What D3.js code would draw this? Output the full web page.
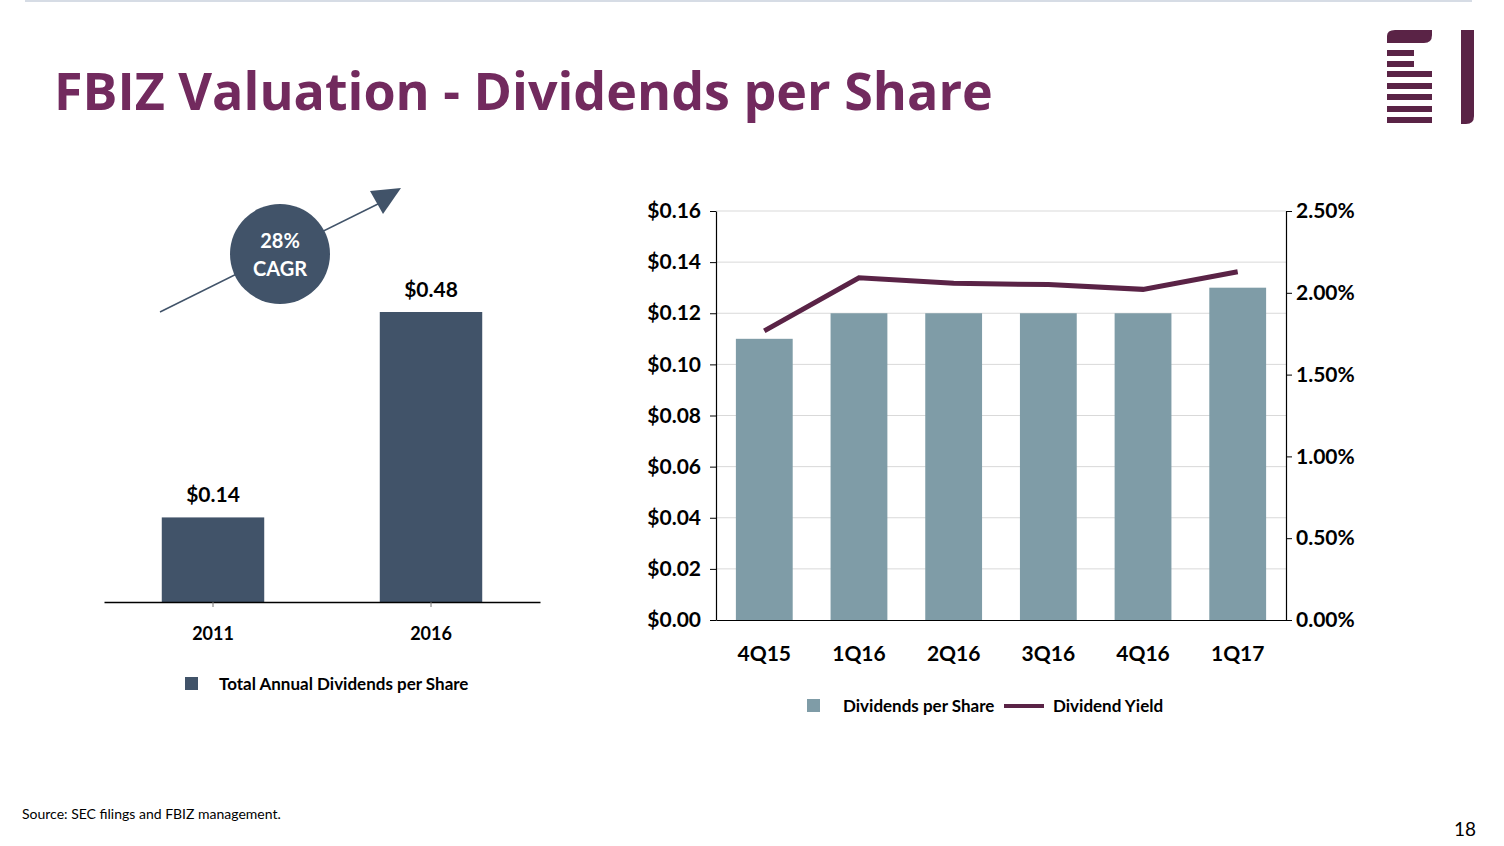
<!DOCTYPE html>
<html><head><meta charset="utf-8">
<script src="https://cdn.jsdelivr.net/npm/d3@7"></script>
<style>
html,body{margin:0;padding:0;background:#fff;}
svg text{font-family:Lato,"Open Sans",sans-serif;}
</style></head>
<body>
<svg id="c" width="1504" height="846"></svg>
<script>
// ---- data ----
const annualYears = ["2011", "2016"];
const annualDividends = [0.14, 0.48];
const annualLabels = ["$0.14", "$0.48"];
const cagrLabel = ["28%", "CAGR"];

const quarters = ["4Q15", "1Q16", "2Q16", "3Q16", "4Q16", "1Q17"];
const quarterlyDividends = [0.11, 0.12, 0.12, 0.12, 0.12, 0.13];
const dividendYield = [0.01767, 0.02092, 0.02058, 0.02050, 0.02021, 0.02129];
const leftTicks = [0, 0.02, 0.04, 0.06, 0.08, 0.10, 0.12, 0.14, 0.16];
const rightTicks = [0, 0.005, 0.010, 0.015, 0.020, 0.025];

const titleText = "FBIZ Valuation - Dividends per Share";
const sourceText = "Source: SEC filings and FBIZ management.";
const pageNumber = "18";

// ---- colours ----
const purple = "#722a5e";
const logoColor = "#5a2346";
const slate = "#415369";
const teal = "#7f9ca7";
const yieldColor = "#5a2346";

const svg = d3.select("#c");

// top rule
svg.append("line").attr("x1", 25).attr("x2", 1472).attr("y1", 1).attr("y2", 1)
  .attr("stroke", "#d6dce5").attr("stroke-width", 2);

// title
svg.append("text").attr("x", 54).attr("y", 110).text(titleText)
  .attr("fill", purple).attr("font-size", 52).attr("font-weight", 700)
  .style("font-family", "'Open Sans',sans-serif");

// logo
const logo = svg.append("g").attr("fill", logoColor);
logo.append("path").attr("d", "M1387,43 L1387,36 Q1387,30 1395,30 L1432,30 L1432,35 Q1432,43 1424,43 Z");
[[50, 27], [61, 27], [71, 45], [83, 45], [94, 45], [106, 45], [117, 45]].forEach(([y, w]) => {
  logo.append("rect").attr("x", 1387).attr("y", y).attr("width", w).attr("height", 6);
});
logo.append("path").attr("d", "M1461,30 L1474,30 L1474,116 Q1474,124 1466,124 L1461,124 Z");

// ---- left chart ----
const lx = d3.scaleBand().domain(annualYears).range([104, 540]).paddingInner(0.53).paddingOuter(0.265);
const ly = d3.scaleLinear().domain([0, 0.6]).range([602, 239.5]);
const left = svg.append("g");
left.selectAll("rect.bar").data(annualDividends).join("rect")
  .attr("x", (d, i) => lx(annualYears[i])).attr("width", lx.bandwidth())
  .attr("y", d => ly(d)).attr("height", d => ly(0) - ly(d)).attr("fill", slate);
left.selectAll("text.val").data(annualDividends).join("text")
  .attr("x", (d, i) => lx(annualYears[i]) + lx.bandwidth() / 2).attr("y", d => ly(d) - 15)
  .attr("text-anchor", "middle").attr("font-size", 21).attr("font-weight", 700).attr("fill", "#000")
  .text((d, i) => annualLabels[i]);
const lax = left.append("g").attr("transform", "translate(0,602)")
  .call(d3.axisBottom(lx).tickSize(5).tickSizeOuter(0).tickPadding(20));
lax.select(".domain").attr("stroke", "#000").attr("stroke-width", 1.5);
lax.selectAll(".tick line").attr("stroke", "#777");
lax.selectAll("text").attr("font-size", 18).attr("font-weight", 700).attr("fill", "#000")
  .style("font-family", "Lato,sans-serif");
// legend
left.append("rect").attr("x", 185).attr("y", 677).attr("width", 13).attr("height", 13).attr("fill", slate);
left.append("text").attr("x", 219).attr("y", 690).text("Total Annual Dividends per Share")
  .attr("font-size", 17).attr("font-weight", 700).attr("fill", "#000");

// CAGR arrow
svg.append("line").attr("x1", 160).attr("y1", 312).attr("x2", 386).attr("y2", 200)
  .attr("stroke", slate).attr("stroke-width", 1.5);
svg.append("path").attr("d", "M370,191 L401,188 L383,214 Z").attr("fill", slate);
svg.append("circle").attr("cx", 280).attr("cy", 254).attr("r", 50).attr("fill", slate);
svg.selectAll("text.cagr").data(cagrLabel).join("text")
  .attr("x", 280).attr("y", (d, i) => 248 + i * 28).attr("text-anchor", "middle")
  .attr("font-size", 20).attr("font-weight", 700).attr("fill", "#fff").text(d => d);

// ---- right chart ----
const rx = d3.scaleBand().domain(quarters).range([716, 1286]).paddingInner(0.4).paddingOuter(0.21);
const ry = d3.scaleLinear().domain([0, 0.16]).range([620, 211]);
const ry2 = d3.scaleLinear().domain([0, 0.025]).range([620, 211]);
const right = svg.append("g");
// gridlines
right.selectAll("line.grid").data(leftTicks.slice(1)).join("line")
  .attr("x1", 716).attr("x2", 1286).attr("y1", d => ry(d)).attr("y2", d => ry(d))
  .attr("stroke", "#d9d9d9").attr("stroke-width", 1);
right.selectAll("rect.bar").data(quarterlyDividends).join("rect")
  .attr("x", (d, i) => rx(quarters[i])).attr("width", rx.bandwidth())
  .attr("y", d => ry(d)).attr("height", d => ry(0) - ry(d)).attr("fill", teal);
const line = d3.line().x((d, i) => rx(quarters[i]) + rx.bandwidth() / 2).y(d => ry2(d));
right.append("path").datum(dividendYield).attr("d", line).attr("fill", "none")
  .attr("stroke", yieldColor).attr("stroke-width", 5);

const yl = right.append("g").attr("transform", "translate(716,0)")
  .call(d3.axisLeft(ry).tickValues(leftTicks).tickFormat(d3.format("$.2f")).tickSize(6).tickSizeOuter(0).tickPadding(9));
const yr = right.append("g").attr("transform", "translate(1286,0)")
  .call(d3.axisRight(ry2).tickValues(rightTicks).tickFormat(d3.format(".2%")).tickSize(6).tickSizeOuter(0).tickPadding(4));
const xb = right.append("g").attr("transform", "translate(0,620)")
  .call(d3.axisBottom(rx).tickSize(0).tickSizeOuter(0).tickPadding(26));
[yl, yr].forEach(g => {
  g.select(".domain").attr("stroke", "#000").attr("stroke-width", 1.2);
  g.selectAll(".tick line").attr("stroke", "#000");
});
xb.select(".domain").attr("stroke", "#000").attr("stroke-width", 1.2);
[yl, yr, xb].forEach(g => g.selectAll("text").attr("font-size", 21).attr("font-weight", 700)
  .attr("fill", "#000").style("font-family", "Lato,sans-serif"));

// legend
right.append("rect").attr("x", 807).attr("y", 699).attr("width", 13).attr("height", 13).attr("fill", teal);
right.append("text").attr("x", 843).attr("y", 712).text("Dividends per Share")
  .attr("font-size", 17).attr("font-weight", 700).attr("fill", "#000");
right.append("line").attr("x1", 1004).attr("x2", 1044).attr("y1", 706).attr("y2", 706)
  .attr("stroke", yieldColor).attr("stroke-width", 4);
right.append("text").attr("x", 1053).attr("y", 712).text("Dividend Yield")
  .attr("font-size", 17).attr("font-weight", 700).attr("fill", "#000");

// footer
svg.append("text").attr("x", 22).attr("y", 819).text(sourceText).attr("font-size", 14).attr("fill", "#000");
svg.append("text").attr("x", 1476).attr("y", 836).attr("text-anchor", "end").text(pageNumber)
  .attr("font-size", 19).attr("fill", "#000");
</script>
</body></html>
